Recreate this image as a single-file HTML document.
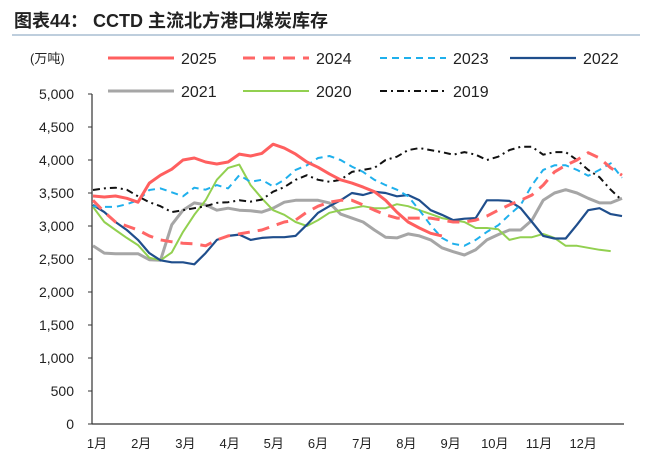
<!DOCTYPE html>
<html><head><meta charset="utf-8">
<style>
body{margin:0;background:#fff;width:646px;height:454px;overflow:hidden;font-family:"Liberation Sans","Noto Sans CJK SC",sans-serif;}
</style></head><body>
<svg id="chart" width="646" height="454" viewBox="0 0 646 454" style="position:absolute;left:0;top:0">
<text x="14" y="27" font-size="18" font-weight="bold" fill="#222" font-family="Liberation Sans,Noto Sans CJK SC,sans-serif">图表44：  CCTD 主流北方港口煤炭库存</text>
<line x1="12" y1="35" x2="640" y2="35" stroke="#a9bdd2" stroke-width="1.5"/>
<text x="30" y="63" font-size="13" fill="#222">(万吨)</text>
<g id="axes"></g>
<g id="series"></g>
<g id="legend"></g>
</svg>
<script>
const yTicks=[0,500,1000,1500,2000,2500,3000,3500,4000,4500,5000];
const yTickLabels=["0","500","1,000","1,500","2,000","2,500","3,000","3,500","4,000","4,500","5,000"];
const months=["1月","2月","3月","4月","5月","6月","7月","8月","9月","10月","11月","12月"];
const v2025=[3455,3440,3455,3420,3360,3650,3770,3860,4000,4030,3970,3940,3970,4090,4060,4100,4240,4180,4090,3970,3890,3790,3700,3650,3590,3520,3390,3210,3060,2970,2890,2850];
const v2024=[3390,3210,3060,3000,2940,2850,2790,2760,2740,2730,2700,2790,2850,2880,2910,2940,3000,3060,3090,3210,3300,3360,3390,3390,3320,3240,3170,3120,3120,3120,3120,3090,3060,3060,3090,3150,3240,3320,3390,3470,3620,3820,3920,4000,4110,4030,3880,3770];
const v2023=[3300,3290,3290,3330,3390,3545,3570,3510,3450,3580,3550,3620,3570,3770,3670,3700,3600,3700,3850,3920,4030,4060,4000,3900,3820,3700,3620,3550,3450,3240,3010,2820,2730,2700,2790,2910,3010,3170,3320,3620,3850,3920,3920,3850,3760,3850,3950,3730];
const v2022=[3320,3210,3060,2940,2790,2590,2480,2450,2450,2420,2590,2790,2850,2870,2790,2820,2830,2830,2850,3020,3200,3300,3390,3500,3470,3520,3500,3450,3470,3390,3240,3170,3090,3110,3120,3390,3390,3380,3270,3060,2850,2810,2810,3020,3240,3270,3180,3150];
const v2021=[2700,2590,2580,2580,2580,2490,2480,3020,3240,3350,3320,3240,3270,3240,3230,3210,3270,3360,3390,3390,3390,3350,3180,3120,3060,2940,2830,2820,2880,2850,2790,2670,2610,2560,2640,2790,2870,2940,2940,3090,3390,3500,3550,3500,3420,3350,3350,3420];
const v2020=[3290,3060,2940,2820,2710,2520,2480,2600,2910,3170,3390,3700,3880,3930,3620,3420,3240,3170,3060,3000,3090,3200,3240,3270,3300,3270,3270,3330,3300,3240,3180,3120,3090,3060,2970,2970,2950,2790,2830,2830,2880,2820,2700,2700,2670,2640,2620];
const v2019=[3545,3570,3580,3550,3450,3360,3300,3210,3240,3270,3300,3350,3360,3390,3370,3400,3520,3590,3700,3770,3700,3670,3700,3820,3850,3880,4000,4050,4150,4180,4150,4120,4080,4120,4080,4000,4050,4150,4200,4200,4080,4120,4120,4000,3850,3740,3550,3390];

const svg=document.getElementById('chart');
const NS='http://www.w3.org/2000/svg';
const X0=93,X1=622,Y0=424,Y5=94,N=48;
function xs(i){return X0+i*(X1-X0)/(N-1);}
function ys(v){return Y0-(v/5000)*(Y0-Y5);}
function mk(tag,attrs,parent){const e=document.createElementNS(NS,tag);for(const k in attrs)e.setAttribute(k,attrs[k]);parent.appendChild(e);return e;}
const axes=document.getElementById('axes');
const ya=mk('line',{x1:X0-1,y1:Y5,x2:X0-1,y2:Y0,stroke:'#333','stroke-width':1.2},axes);


const xa=mk('line',{x1:X0-1,y1:Y0,x2:X1+2,y2:Y0,stroke:'#333','stroke-width':1.2},axes);


yTicks.forEach((t,i)=>{
  const y=ys(t);
  mk('line',{x1:X0-5,y1:y,x2:X0-1,y2:y,stroke:'#333'},axes);
  const tx=mk('text',{x:74,y:y+5,'text-anchor':'end','font-size':14,fill:'#222'},axes);
  tx.textContent=yTickLabels[i];
  
  
});
months.forEach((m,i)=>{
  const x=97+i*44.2;
  const tx=mk('text',{x:x,y:448,'text-anchor':'middle','font-size':13,fill:'#222'},axes);
  tx.textContent=m;
  
  
});
const series=[
 {name:'2021',data:v2021,color:'#a6a6a6',dash:'',w:3},
 {name:'2020',data:v2020,color:'#92d050',dash:'',w:2},
 {name:'2019',data:v2019,color:'#111',dash:'7,4,2,4',w:2},
 {name:'2022',data:v2022,color:'#1f4e8c',dash:'',w:2.2},
 {name:'2023',data:v2023,color:'#1fb0ec',dash:'7,5',w:2},
 {name:'2024',data:v2024,color:'#ff6666',dash:'12,8',w:3},
 {name:'2025',data:v2025,color:'#ff5f5f',dash:'',w:3}
];
const sg=document.getElementById('series');
series.forEach(s=>{
  const d=s.data.map((v,i)=>(i?'L':'M')+xs(i).toFixed(1)+','+ys(v).toFixed(1)).join('');
  const p=mk('path',{d:d,fill:'none',stroke:s.color,'stroke-width':s.w,'stroke-dasharray':s.dash,'stroke-linejoin':'round'},sg);
  
  
});
const lg=document.getElementById('legend');
const legendOrder=[['2025',108,58],['2024',243,58],['2023',380,58],['2022',510,58],['2021',108,91],['2020',243,91],['2019',380,91]];
legendOrder.forEach(([n,x,y])=>{
  const s=series.find(q=>q.name===n);
  const g=mk('g',{},lg);
  
  
  mk('line',{x1:x,y1:y,x2:x+66,y2:y,stroke:s.color,'stroke-width':s.w,'stroke-dasharray':s.dash},g);
  const t=mk('text',{x:x+73,y:y+6,'font-size':16,fill:'#222'},g);
  t.textContent=n;
});
</script>
</body></html>
